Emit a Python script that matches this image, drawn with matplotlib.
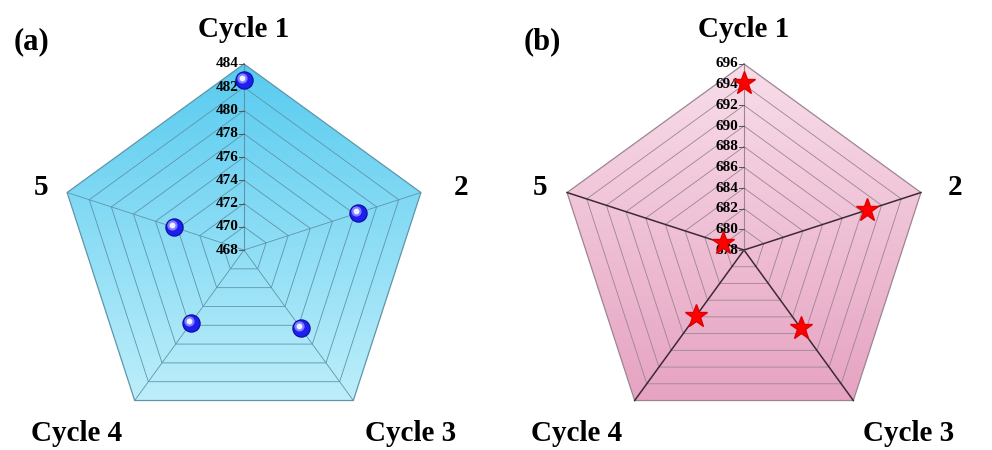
import numpy as np
import matplotlib.pyplot as plt
import matplotlib.transforms as mtransforms
from matplotlib.patches import Polygon

plt.rcParams['font.family'] = ['Liberation Serif', 'DejaVu Serif']
plt.rcParams['font.weight'] = 'bold'

# datos
cycles = ["Cycle 1", "2", "Cycle 3", "Cycle 4", "5"]
valores_a = [482.6, 478.3, 476.3, 475.8, 474.3]
ticks_a = [468, 470, 472, 474, 476, 478, 480, 482, 484]
valores_b = [694.2, 690.5, 687.3, 685.9, 680.1]
ticks_b = [678, 680, 682, 684, 686, 688, 690, 692, 694, 696]

ang = np.deg2rad(90 - 72 * np.arange(5))


def a_xy(v, vmin, vmax):
    r = (np.asarray(v) - vmin) / (vmax - vmin)
    return r * np.cos(ang), r * np.sin(ang)


def fondo(ax, c_top, c_bot):
    """gradiente vertical recortado al pentagono exterior"""
    verts = np.column_stack([np.cos(ang), np.sin(ang)])
    poly = Polygon(verts, closed=True, facecolor='none', edgecolor='none')
    ax.add_patch(poly)
    t = np.linspace(0, 1, 256)[:, None]
    c1 = np.array(plt.matplotlib.colors.to_rgb(c_top))
    c2 = np.array(plt.matplotlib.colors.to_rgb(c_bot))
    img = c1[None, None, :] * (1 - t[:, :, None]) + c2[None, None, :] * t[:, :, None]
    im = ax.imshow(img, extent=[-1, 1, -0.81, 1], origin='upper', aspect='auto', zorder=1)
    im.set_clip_path(poly)


def panel(ax, ticks, vals, c_top, c_bot, ring_c, spoke_c, spoke_lw, letra, xl, labx):
    vmin, vmax = ticks[0], ticks[-1]
    fondo(ax, c_top, c_bot)
    # anillos
    for tv in ticks[1:]:
        r = (tv - vmin) / (vmax - vmin)
        xs = np.append(r * np.cos(ang), r * np.cos(ang[0]))
        ys = np.append(r * np.sin(ang), r * np.sin(ang[0]))
        lw = 0.9 if tv == vmax else 0.6
        ax.plot(xs, ys, color=ring_c, lw=lw, zorder=2)
    # ejes radiales
    for k in range(5):
        c = ring_c if k == 0 else spoke_c
        lw = 0.8 if k == 0 else spoke_lw
        ax.plot([0, np.cos(ang[k])], [0, np.sin(ang[k])], color=c, lw=lw, zorder=2)
    # etiquetas del eje
    for tv in ticks:
        r = (tv - vmin) / (vmax - vmin)
        ax.plot([-0.025, 0], [r, r], color='#555555', lw=0.7, zorder=3)
        ax.text(-0.03, r, str(tv), ha='right', va='center', fontsize=11,
                fontweight='bold', zorder=4)
    # nombres de los vertices
    pos = [(0.0, 1.183), (labx[0], 0.336), (labx[1], -0.984), (labx[2], -0.984), (labx[3], 0.336)]
    for (x, y), nombre in zip(pos, cycles):
        ax.text(x, y, nombre, ha='center', va='center', fontsize=21, fontweight='bold')
    ax.text(xl, 1.118, letra, ha='center', va='center', fontsize=22, fontweight='bold')
    return a_xy(vals, vmin, vmax)


fig = plt.figure(figsize=(9.92, 4.5), dpi=100)
ax1 = fig.add_axes([0, 0, 0.5, 1])
ax2 = fig.add_axes([0.5, 0, 0.5, 1])

x, y = panel(ax1, ticks_a, valores_a, '#58CBF0', '#BDEEFA', '#5E95AA', '#5E95AA', 0.6,
             '(a)', -1.14, [1.167, 0.898, -0.903, -1.091])
# esferas azules
ax1.scatter(x, y, s=150, color='#0A0A9A', zorder=5)
ax1.scatter(x, y, s=115, color='#1E1EEE', zorder=6)
off = mtransforms.offset_copy(ax1.transData, fig=fig, x=-1.5, y=1.8, units='points')
ax1.scatter(x, y, s=40, color='#7F7FFF', zorder=7, transform=off)
ax1.scatter(x, y, s=10, color='#F0F0FF', zorder=8, transform=off)

x, y = panel(ax2, ticks_b, valores_b, '#F8DDE9', '#E6A3C2', '#9C8592', '#3E2A33', 1.1,
             '(b)', -1.086, [1.134, 0.882, -0.898, -1.097])
ax2.plot(x, y, ls='none', marker='*', ms=17, color='#FF0000', mec='#E00000', zorder=5)

ax1.set_xlim(-1.312, 1.355)
ax2.set_xlim(-1.333, 1.333)
for ax in (ax1, ax2):
    ax.set_ylim(-1.075, 1.344)
    ax.axis('off')

fig.savefig('out.png', dpi=100)
